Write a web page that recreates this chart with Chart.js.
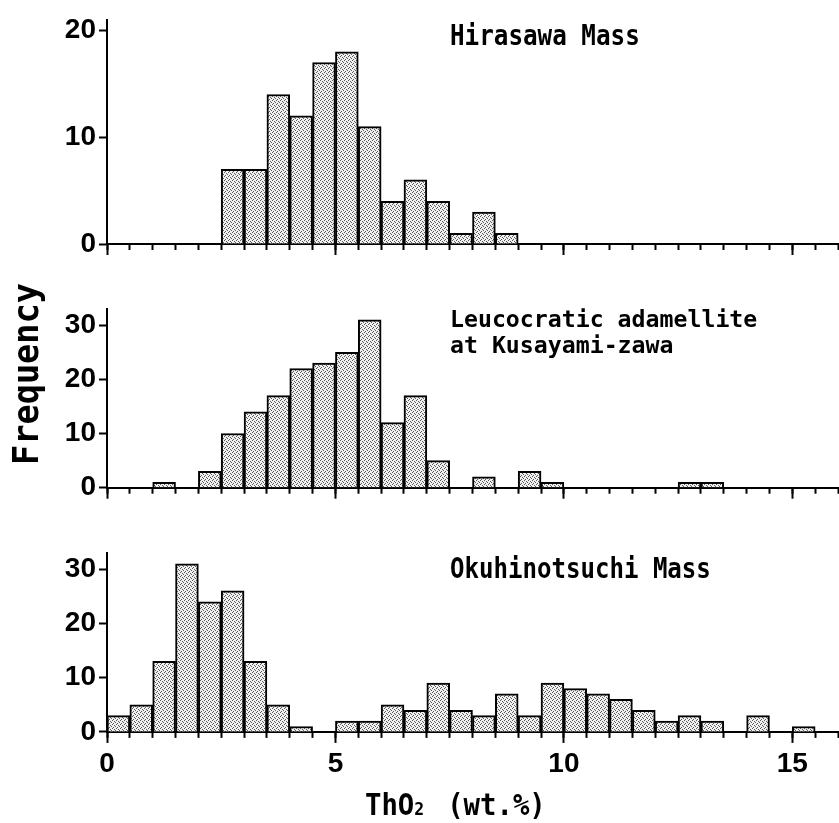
<!DOCTYPE html>
<html>
<head>
<meta charset="utf-8">
<script src="https://cdn.jsdelivr.net/npm/chart.js@4.4.1/dist/chart.umd.min.js"></script>
<style>
  body { margin: 0; background: #fff; }
  #wrap { position: relative; width: 839px; height: 823px; background: #fff; }
  canvas { position: absolute; left: 0; }
</style>
</head>
<body>
<div id="wrap">
  <canvas id="hirasawa" width="839" height="280" style="top:0px"></canvas>
  <canvas id="kusayami" width="839" height="240" style="top:280px"></canvas>
  <canvas id="okuhino" width="839" height="303" style="top:520px"></canvas>
</div>
<script>
// left edge of each ThO2 bin (wt.%), bins are 0.5 wide
const binEdges = [0, 0.5, 1, 1.5, 2, 2.5, 3, 3.5, 4, 4.5, 5, 5.5, 6, 6.5, 7, 7.5,
                  8, 8.5, 9, 9.5, 10, 10.5, 11, 11.5, 12, 12.5, 13, 13.5, 14, 14.5, 15, 15.5];
const binWidth = 0.5;

// frequencies per bin
const hirasawaCounts = [0, 0, 0, 0, 0, 7, 7, 14, 12, 17, 18, 11, 4, 6, 4, 1,
                        3, 1, 0, 0, 0, 0, 0, 0, 0, 0, 0, 0, 0, 0, 0, 0];
const kusayamiCounts = [0, 0, 1, 0, 3, 10, 14, 17, 22, 23, 25, 31, 12, 17, 5, 0,
                        2, 0, 3, 1, 0, 0, 0, 0, 0, 1, 1, 0, 0, 0, 0, 0];
const okuhinoCounts  = [3, 5, 13, 31, 24, 26, 13, 5, 1, 0, 2, 2, 5, 4, 9, 4,
                        3, 7, 3, 9, 8, 7, 6, 4, 2, 3, 2, 0, 3, 0, 1, 0];

// axis ticks
const xMinorTicks = [0, 0.5, 1, 1.5, 2, 2.5, 3, 3.5, 4, 4.5, 5, 5.5, 6, 6.5, 7, 7.5,
                     8, 8.5, 9, 9.5, 10, 10.5, 11, 11.5, 12, 12.5, 13, 13.5, 14, 14.5, 15, 15.5, 16];
const xMajorTicks = [0, 5, 10, 15];
const yTicksSmall = [0, 10, 20];
const yTicksLarge = [0, 10, 20, 30];

const monoFont = 'DejaVu Sans Mono';
const tickFont = { family: 'Liberation Sans', size: 28, weight: 'bold' };

// stippled grey fill like the printed figure
function stipple() {
  const c = document.createElement('canvas');
  c.width = 4; c.height = 4;
  const g = c.getContext('2d');
  g.fillStyle = '#f0f0f0';
  g.fillRect(0, 0, 4, 4);
  g.fillStyle = '#5a5a5a';
  [[0, 0], [2, 1], [1, 3], [3, 2]].forEach(p => g.fillRect(p[0], p[1], 1, 1));
  return g.createPattern(c, 'repeat');
}
const fillPattern = stipple();

// text drawn on the canvas (condensed mono look of the original)
function textPlugin(items) {
  return {
    id: 'panelText',
    afterDraw(chart) {
      const ctx = chart.ctx;
      items.forEach(t => {
        ctx.save();
        ctx.translate(t.x, t.y);
        if (t.rotate) ctx.rotate(t.rotate);
        ctx.scale(t.sx || 1, t.sy || 1);
        ctx.fillStyle = '#000';
        ctx.textBaseline = 'alphabetic';
        ctx.textAlign = 'left';
        const mainFont = 'bold ' + t.size + 'px "' + monoFont + '"';
        ctx.font = mainFont;
        let x0 = 0;
        if (t.center) x0 = -ctx.measureText(t.parts.map(p => p.text).join('')).width / 2;
        let prev = '';
        t.parts.forEach(p => {
          ctx.font = mainFont;
          const px = x0 + ctx.measureText(prev).width;
          ctx.font = 'bold ' + (p.size || t.size) + 'px "' + monoFont + '"';
          ctx.fillText(p.text, px, 0);
          prev += p.text;
        });
        ctx.restore();
      });
    }
  };
}

function histogram(id, counts, yMax, yTicks, opt) {
  const data = binEdges.map((e, i) => ({ x: e + binWidth / 2, y: counts[i] || null }));
  return new Chart(document.getElementById(id), {
    type: 'bar',
    data: {
      datasets: [{
        data: data,
        backgroundColor: fillPattern,
        borderColor: '#000',
        borderWidth: 2,
        barPercentage: 1,
        categoryPercentage: 1
      }]
    },
    options: {
      responsive: false,
      animation: false,
      devicePixelRatio: 1,
      layout: { padding: { top: opt.top, right: 1, left: 0, bottom: 0 } },
      plugins: { legend: { display: false }, tooltip: { enabled: false } },
      scales: {
        x: {
          type: 'linear', min: 0, max: 16, position: 'bottom', offset: false,
          afterBuildTicks: s => { s.ticks = xMinorTicks.map(v => ({ value: v })); },
          afterFit: s => { s.height = 0; },
          grid: { offset: false, drawOnChartArea: false, tickLength: 6, tickWidth: 2, tickColor: '#000' },
          border: { color: '#000', width: 2 },
          ticks: { display: false }
        },
        x2: {
          type: 'linear', min: 0, max: 16, position: 'bottom', offset: false,
          afterBuildTicks: s => { s.ticks = xMajorTicks.map(v => ({ value: v })); },
          afterFit: s => { s.height = opt.axisH; },
          grid: { offset: false, drawOnChartArea: false, tickLength: 11, tickWidth: 2, tickColor: '#000' },
          border: { display: false },
          ticks: {
            display: opt.labels, font: tickFont, color: '#000', padding: 5,
            maxRotation: 0, autoSkip: false
          }
        },
        y: {
          min: 0, max: yMax,
          afterBuildTicks: s => { s.ticks = yTicks.map(v => ({ value: v })); },
          afterFit: s => { s.width = 107; },
          grid: { drawOnChartArea: false, tickLength: 8, tickWidth: 2, tickColor: '#000' },
          border: { color: '#000', width: 2 },
          ticks: { font: tickFont, color: '#000', padding: 3 }
        }
      }
    },
    plugins: [textPlugin(opt.texts)]
  });
}

histogram('hirasawa', hirasawaCounts, 21, yTicksSmall, {
  top: 16.6, axisH: 36, labels: false,
  texts: [{ x: 450, y: 45, size: 29, sx: 0.836, parts: [{ text: 'Hirasawa Mass' }] }]
});

histogram('kusayami', kusayamiCounts, 33, yTicksLarge, {
  top: 28.9, axisH: 32.3, labels: false,
  texts: [
    { x: 450, y: 47, size: 29, sx: 0.80, sy: 0.78, parts: [{ text: 'Leucocratic adamellite' }] },
    { x: 450, y: 73, size: 29, sx: 0.80, sy: 0.78, parts: [{ text: 'at Kusayami-zawa' }] },
    { x: 38, y: 94, size: 35, sx: 0.96, rotate: -Math.PI / 2, center: true, parts: [{ text: 'Frequency' }] }
  ]
});

histogram('okuhino', okuhinoCounts, 33, yTicksLarge, {
  top: 33, axisH: 91.1, labels: true,
  texts: [
    { x: 450, y: 58, size: 29, sx: 0.83, parts: [{ text: 'Okuhinotsuchi Mass' }] },
    { x: 365, y: 295, size: 30, sx: 0.91, parts: [{ text: 'ThO' }, { text: '2', size: 18 }, { text: ' (wt.%)' }] }
  ]
});
</script>
</body>
</html>
